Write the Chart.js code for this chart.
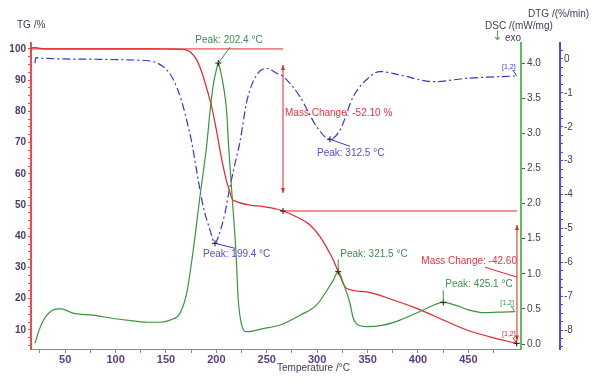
<!DOCTYPE html>
<html>
<head>
<meta charset="utf-8">
<script src="https://cdn.jsdelivr.net/npm/chart.js@4.4.1/dist/chart.umd.min.js"></script>
<style>
html,body{margin:0;padding:0;background:#ffffff;}
#c{display:block;}
</style>
</head>
<body>
<canvas id="c" width="600" height="384"></canvas>
<script>
// ---------------- data ----------------
const tgTemps  = [16.1, 20, 26, 32, 60, 100, 140, 155, 163.9, 170.5, 173.8, 180.5, 185.4, 190.4, 195.3, 200.3, 203.6, 206.8, 210.2, 212.8, 215.2, 220.1, 233.3, 246.5, 263.1, 282.9, 292.9, 302.8, 312.7, 316.0, 320.9, 325.9, 329.3, 349.1, 375.5, 398.7, 425.1, 448.3, 471.4, 497.9];
const tgValues = [100.3, 100.4, 100.2, 100.0, 100.0, 100.0, 100.0, 99.95, 99.9, 99.6, 99.1, 96.5, 92.7, 87.4, 81.5, 73.5, 67.5, 62.3, 57.5, 54.8, 52.2, 51.1, 50.0, 49.5, 48.4, 45.7, 43.6, 39.9, 34.5, 32.4, 28.6, 24.9, 23.3, 22.2, 19.6, 16.9, 13.2, 10.0, 7.8, 5.7];

const dscTemps  = [20.0, 25.0, 31.9, 41.9, 46.0, 57.7, 77.6, 99.4, 117.3, 134.1, 144.0, 154.0, 163.9, 170.5, 177.1, 183.7, 190.4, 193.7, 196.9, 200.3, 201.9, 203.6, 206.8, 210.2, 212.0, 215.6, 219.3, 221.7, 225.1, 230.1, 246.5, 263.1, 282.9, 299.5, 316.0, 320.9, 325.9, 332.5, 335.8, 340.8, 349.1, 365.6, 382.1, 405.3, 425.1, 441.7, 448.3, 466.6, 480.0, 496.2];
const dscValues = [0.01, 0.23, 0.41, 0.50, 0.50, 0.44, 0.41, 0.36, 0.33, 0.31, 0.31, 0.34, 0.44, 0.72, 1.34, 2.10, 2.83, 3.31, 3.69, 3.92, 4.00, 3.92, 3.69, 3.31, 2.85, 2.10, 1.34, 0.63, 0.27, 0.175, 0.22, 0.27, 0.41, 0.556, 0.91, 1.03, 0.864, 0.58, 0.366, 0.27, 0.247, 0.27, 0.34, 0.484, 0.594, 0.53, 0.494, 0.446, 0.455, 0.46];

const dtgTemps  = [20.0, 21.0, 28.1, 84.5, 117.6, 134.1, 147.3, 157.2, 165.6, 172.1, 175.5, 181.0, 187.0, 193.7, 198.6, 201.9, 208.5, 213.5, 220.1, 223.4, 230.1, 240.0, 249.9, 259.8, 266.4, 282.9, 291.0, 299.5, 312.7, 322.6, 335.8, 352.4, 362.3, 382.1, 415.2, 448.3, 497.9];
const dtgValues = [-0.12, 0.04, 0.02, -0.01, -0.03, -0.06, -0.23, -0.6, -1.25, -2.0, -2.45, -3.4, -4.36, -5.05, -5.44, -5.25, -4.55, -3.77, -2.88, -2.45, -1.26, -0.47, -0.28, -0.42, -0.52, -1.11, -1.55, -2.0, -2.37, -2.10, -1.11, -0.52, -0.37, -0.47, -0.67, -0.57, -0.50];

// tick labels
const tempTickLabels = [50, 100, 150, 200, 250, 300, 350, 400, 450];
const tgTickLabels   = [10, 20, 30, 40, 50, 60, 70, 80, 90, 100];
const dscTickLabels  = [0, 0.5, 1, 1.5, 2, 2.5, 3, 3.5, 4];
const dtgTickLabels  = [-8, -7, -6, -5, -4, -3, -2, -1, 0];

// evaluated peaks / steps
const dscPeakTemps  = [201.9, 320.9, 425.1];
const dscPeakValues = [4.00, 1.03, 0.594];
const dscPeakTexts  = ['Peak: 202.4 °C', 'Peak: 321.5 °C', 'Peak: 425.1 °C'];
const dtgPeakTemps  = [198.6, 312.7];
const dtgPeakValues = [-5.44, -2.37];
const dtgPeakTexts  = ['Peak: 199.4 °C', 'Peak: 312.5 °C'];
const stepTemps  = [266.1, 498.2];
const stepLevels = [100, 48.1, 5.7];
const stepTexts  = ['Mass Change: -52.10 %', 'Mass Change: -42.60'];

// ---------------- styles ----------------
const FONT = '"Liberation Sans", Arial, sans-serif';
const C_RED = '#e8232b', C_GREEN = '#37963c', C_BLUE = '#3535d4';
const C_TXT_GREEN = '#3f8c55', C_TXT_BLUE = '#5a4ad6', C_TXT_RED = '#f0303a';
const C_TITLE = '#45395a';

// label placement (pixel offsets from the anchor point)
const dscLabelLayout = [
  {tx: -23, ty: -23, lx: 12, ly: -16},
  {tx: 2, ty: -17, lx: 0, ly: -12},
  {tx: 2, ty: -18, lx: 0, ly: -12}
];
const dtgLabelLayout = [
  {tx: -12, ty: 11, lx: 20, ly: 5},
  {tx: -13, ty: 14, lx: 20, ly: 7}
];

function line(ctx, x1, y1, x2, y2) {
  ctx.beginPath(); ctx.moveTo(x1, y1); ctx.lineTo(x2, y2); ctx.stroke();
}
function vArrow(ctx, x, yTop, yBot) {
  line(ctx, x, yTop, x, yBot);
  ctx.beginPath(); ctx.moveTo(x, yTop); ctx.lineTo(x - 2, yTop + 5); ctx.lineTo(x + 2, yTop + 5); ctx.closePath(); ctx.fill();
  ctx.beginPath(); ctx.moveTo(x, yBot); ctx.lineTo(x - 2, yBot - 5); ctx.lineTo(x + 2, yBot - 5); ctx.closePath(); ctx.fill();
}

const annotationPlugin = {
  id: 'thermoAnnotations',
  afterDatasetsDraw(chart) {
    const ctx = chart.ctx;
    const {x, y, y1, y2} = chart.scales;
    ctx.save();
    ctx.lineWidth = 1;
    ctx.font = '10px ' + FONT;
    ctx.textBaseline = 'middle';

    // mass change evaluation
    const ax0 = x.getPixelForValue(stepTemps[0]);
    const ax1 = x.getPixelForValue(stepTemps[1]);
    const l0 = y.getPixelForValue(stepLevels[0]);
    const l1 = y.getPixelForValue(stepLevels[1]);
    const l2 = y.getPixelForValue(stepLevels[2]);
    ctx.strokeStyle = C_RED; ctx.fillStyle = C_RED;
    line(ctx, x.left, l0, ax0, l0);
    line(ctx, ax0, l1, ax1, l1);
    vArrow(ctx, ax0, l0 + 16, l1 - 18);
    vArrow(ctx, ax1, l1 + 14, l2 - 3);
    const m2 = (l1 + l2) / 2;
    line(ctx, ax1 - 32, m2 - 10, ax1, m2);
    ctx.fillStyle = C_TXT_RED;
    ctx.textAlign = 'left';
    ctx.fillText(stepTexts[0], ax0 + 2, (l0 + l1) / 2 - 17);
    ctx.textAlign = 'right';
    ctx.fillText(stepTexts[1], ax1, m2 - 16);

    // DSC peaks
    ctx.textAlign = 'left';
    dscPeakTemps.forEach((t, i) => {
      const px = x.getPixelForValue(t), py = y1.getPixelForValue(dscPeakValues[i]);
      const L = dscLabelLayout[i];
      ctx.strokeStyle = C_GREEN;
      line(ctx, px, py, px + L.lx, py + L.ly);
      ctx.fillStyle = C_TXT_GREEN;
      ctx.fillText(dscPeakTexts[i], px + L.tx, py + L.ty);
    });
    // DTG peaks
    dtgPeakTemps.forEach((t, i) => {
      const px = x.getPixelForValue(t), py = y2.getPixelForValue(dtgPeakValues[i]);
      const L = dtgLabelLayout[i];
      ctx.strokeStyle = C_BLUE;
      line(ctx, px, py, px + L.lx, py + L.ly);
      ctx.fillStyle = C_TXT_BLUE;
      ctx.fillText(dtgPeakTexts[i], px + L.tx, py + L.ty);
    });

    // curve end labels [1,2]
    ctx.font = '7px ' + FONT;
    ctx.textAlign = 'right';
    const ends = [
      [x.getPixelForValue(dtgTemps[dtgTemps.length - 1]), y2.getPixelForValue(dtgValues[dtgValues.length - 1]), C_BLUE],
      [x.getPixelForValue(dscTemps[dscTemps.length - 1]), y1.getPixelForValue(dscValues[dscValues.length - 1]), C_GREEN],
      [x.getPixelForValue(tgTemps[tgTemps.length - 1]), y.getPixelForValue(tgValues[tgValues.length - 1]), C_RED]
    ];
    ends.forEach(([ex, ey, c]) => {
      ctx.fillStyle = c; ctx.strokeStyle = c;
      ctx.fillText('[1,2]', ex - 1, ey - 9);
      line(ctx, ex - 4, ey - 6, ex, ey);
    });

    // axis titles
    ctx.fillStyle = C_TITLE;
    ctx.font = '10px ' + FONT;
    ctx.textAlign = 'left';
    ctx.fillText('TG /%', 17, 25);
    ctx.fillText('DSC /(mW/mg)', 485, 26);
    ctx.fillText('DTG /(%/min)', 528, 14);
    ctx.fillText('exo', 505, 38);
    ctx.fillStyle = '#5f9a6a';
    ctx.font = '13px "DejaVu Sans", sans-serif';
    ctx.fillText('↓', 492, 37);
    ctx.fillStyle = C_TITLE;
    ctx.font = '10px ' + FONT;
    ctx.fillText('Temperature /°C', 277, 368);
    ctx.restore();
  }
};

const toXY = (ts, vs) => ts.map((t, i) => ({x: t, y: vs[i]}));

function stepTicks(scale, from, to, div) {
  scale.ticks = [];
  for (let i = from; i <= to; i++) scale.ticks.push({value: i / div});
}

const markerStyle = {showLine: false, pointStyle: 'cross', pointRadius: 3, borderColor: '#111', borderWidth: 1, order: 0};

new Chart(document.getElementById('c'), {
  type: 'line',
  data: {
    datasets: [
      Object.assign({label: 'markersTG', data: toXY([stepTemps[0], tgTemps[tgTemps.length - 1]], [stepLevels[1], tgValues[tgValues.length - 1]]), yAxisID: 'y'}, markerStyle),
      Object.assign({label: 'markersDSC', data: toXY(dscPeakTemps, dscPeakValues), yAxisID: 'y1'}, markerStyle),
      Object.assign({label: 'markersDTG', data: toXY(dtgPeakTemps, dtgPeakValues), yAxisID: 'y2'}, markerStyle),
      {label: 'TG', data: toXY(tgTemps, tgValues), yAxisID: 'y', borderColor: C_RED, borderWidth: 1.2, pointRadius: 0, cubicInterpolationMode: 'monotone', order: 2},
      {label: 'DSC', data: toXY(dscTemps, dscValues), yAxisID: 'y1', borderColor: C_GREEN, borderWidth: 1.2, pointRadius: 0, cubicInterpolationMode: 'monotone', order: 1},
      {label: 'DTG', data: toXY(dtgTemps, dtgValues), yAxisID: 'y2', borderColor: C_BLUE, borderWidth: 1.2, borderDash: [8, 3, 2, 3], pointRadius: 0, cubicInterpolationMode: 'monotone', order: 3}
    ]
  },
  options: {
    responsive: false,
    animation: false,
    devicePixelRatio: 1,
    layout: {padding: {top: 43, left: 0, right: 0, bottom: 0}},
    plugins: {legend: {display: false}, tooltip: {enabled: false}},
    scales: {
      x: {
        type: 'linear', position: 'bottom', min: 16.1, max: 502.2,
        afterBuildTicks: s => stepTicks(s, 1, 19, 1 / 25),
        ticks: {autoSkip: false, maxRotation: 0, padding: 0, color: '#5a3c86', font: {family: FONT, size: 11, weight: 'bold'},
                callback: v => tempTickLabels.includes(Math.round(v)) ? String(Math.round(v)) : ''},
        grid: {drawOnChartArea: false, drawTicks: true, tickLength: 4, color: '#8a8a8a'},
        border: {display: true, color: '#8a8a8a', width: 1},
        afterFit: s => { s.height = 35; }
      },
      y: {
        type: 'linear', position: 'left', min: 3.9, max: 101.9,
        afterBuildTicks: s => stepTicks(s, 2, 40, 1 / 2.5),
        ticks: {autoSkip: false, padding: 2, color: '#4b3d63', font: {family: FONT, size: 10, weight: 'bold'},
                callback: v => tgTickLabels.includes(Math.round(v * 10) / 10) ? String(Math.round(v)) : ''},
        grid: {drawOnChartArea: false, drawTicks: true, tickLength: 3, color: '#f04a4a'},
        border: {display: true, color: '#f04a4a', width: 2},
        afterFit: s => { s.width = 31; }
      },
      y1: {
        type: 'linear', position: 'right', min: -0.071, max: 4.285,
        afterBuildTicks: s => stepTicks(s, 0, 8, 2),
        ticks: {autoSkip: false, padding: 2, color: '#444444', font: {family: FONT, size: 10},
                callback: v => dscTickLabels.includes(v) ? v.toFixed(1) : ''},
        grid: {drawOnChartArea: false, drawTicks: true, tickLength: 4, color: '#555555'},
        border: {display: true, color: '#5cbf5c', width: 2},
        afterFit: s => { s.width = 39; }
      },
      y2: {
        type: 'linear', position: 'right', min: -8.56, max: 0.472,
        afterBuildTicks: s => stepTicks(s, -34, 1, 4),
        ticks: {autoSkip: false, padding: 1, color: '#444444', font: {family: FONT, size: 10},
                callback: v => dtgTickLabels.includes(v) ? String(v) : ''},
        grid: {drawOnChartArea: false, drawTicks: true, tickLength: 3, color: '#4a4af0'},
        border: {display: true, color: '#4a4af0', width: 2},
        afterFit: s => { s.width = 40; }
      }
    }
  },
  plugins: [annotationPlugin]
});
</script>
</body>
</html>
